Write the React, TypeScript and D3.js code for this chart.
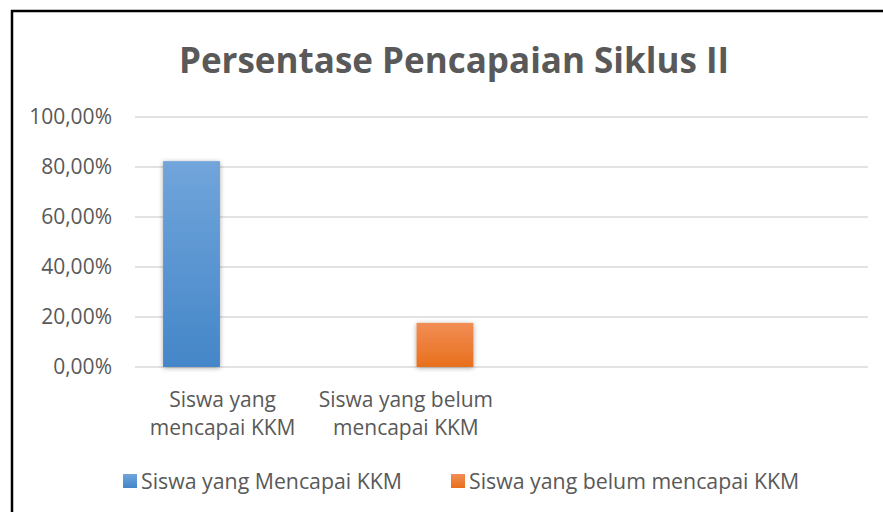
import React from "react";
import * as d3 from "d3";

const categories = ["Siswa yang|mencapai KKM", "Siswa yang belum|mencapai KKM", "", ""];
const seriesNames = ["Siswa yang Mencapai KKM", "Siswa yang belum mencapai KKM"];
const seriesValues = [
  [0.8235, null, null, null],
  [null, 0.1765, null, null],
];
const yTicks = [0, 0.2, 0.4, 0.6, 0.8, 1.0];
const title = "Persentase Pencapaian Siklus II";

const W = 883, H = 512;
const FONT = "'Open Sans', sans-serif";
const colorsTop = ["#71a5db", "#f18d55"];
const colorsBot = ["#4486c8", "#e8701c"];

export default function App() {
  const x = d3.scaleBand<number>().domain(categories.map((_, i) => i)).range([135, 868]).padding(0);
  const xs = d3.scaleBand<number>().domain([0, 1]).range([0, x.bandwidth()]).paddingInner(0.19).paddingOuter(0.4);
  const y = d3.scaleLinear().domain([0, 1]).range([367, 117]);
  const fmt = (v: number) => (v * 100).toFixed(2).replace(".", ",") + "%";

  return (
    <svg width={W} height={H} style={{ position: "absolute", left: 0, top: 0, background: "#fff" }}>
      <defs>
        {seriesNames.map((_, s) => (
          <linearGradient key={s} id={`g${s}`} x1="0" y1="0" x2="0" y2="1">
            <stop offset="0" stopColor={colorsTop[s]} />
            <stop offset="1" stopColor={colorsBot[s]} />
          </linearGradient>
        ))}
        <filter id="sh" x="-30%" y="-10%" width="160%" height="125%">
          <feGaussianBlur in="SourceAlpha" stdDeviation="2.5" />
          <feOffset dx="0" dy="1" result="b" />
          <feComponentTransfer><feFuncA type="linear" slope="0.35" /></feComponentTransfer>
          <feMerge><feMergeNode /><feMergeNode in="SourceGraphic" /></feMerge>
        </filter>
      </defs>
      <rect x={12} y={11} width={W + 20} height={H + 20} fill="#fff" stroke="#000" strokeWidth={2.5} />
      <text x={454} y={73} textAnchor="middle" fontFamily={FONT} fontWeight={700} fontSize={35} fill="#595959">{title}</text>
      {yTicks.map((t) => (
        <g key={t}>
          <line x1={135} x2={868} y1={y(t)} y2={y(t)} stroke="#d9d9d9" strokeWidth={1.6} />
          <text x={112} y={y(t) + 7} textAnchor="end" fontFamily={FONT} fontSize={21} fill="#595959">{fmt(t)}</text>
        </g>
      ))}
      {seriesValues.map((vals, s) =>
        vals.map((v, i) =>
          v == null ? null : (
            <rect key={`${s}-${i}`} x={(x(i) as number) + (xs(s) as number)} y={y(v)} width={xs.bandwidth()} height={y(0) - y(v)} fill={`url(#g${s})`} filter="url(#sh)" />
          )
        )
      )}
      {categories.map((c, i) =>
        c.split("|").map((line, j) =>
          line ? (
            <text key={`${i}-${j}`} x={(x(i) as number) + x.bandwidth() / 2 - 4} y={407 + j * 28} textAnchor="middle" fontFamily={FONT} fontSize={21} fill="#595959">{line}</text>
          ) : null
        )
      )}
      {seriesNames.map((n, s) => {
        const lx = [123, 451][s];
        return (
          <g key={n}>
            <rect x={lx} y={474} width={14} height={14} fill={`url(#g${s})`} />
            <text x={lx + 18} y={489} fontFamily={FONT} fontSize={21.3} fill="#595959">{n}</text>
          </g>
        );
      })}
    </svg>
  );
}
